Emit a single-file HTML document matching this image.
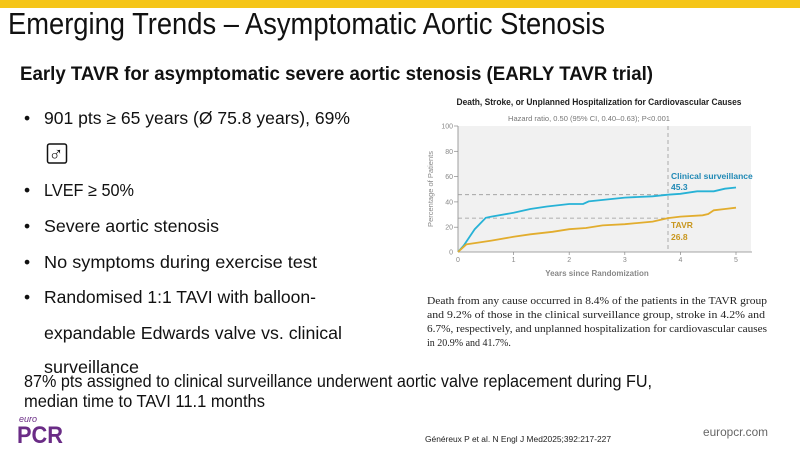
<!DOCTYPE html>
<html><head><meta charset="utf-8"><style>
html,body{margin:0;padding:0;background:#fff;}
svg{display:block;font-family:"Liberation Sans",sans-serif;}
</style></head><body>
<svg width="800" height="450" viewBox="0 0 800 450" xmlns="http://www.w3.org/2000/svg">
<rect x="0" y="0" width="800" height="8" fill="#f5c518"/>
<text x="8" y="34" font-size="31" fill="#111" textLength="597" lengthAdjust="spacingAndGlyphs">Emerging Trends – Asymptomatic Aortic Stenosis</text>
<text x="20" y="80" font-size="19" font-weight="bold" fill="#111" textLength="633" lengthAdjust="spacingAndGlyphs">Early TAVR for asymptomatic severe aortic stenosis (EARLY TAVR trial)</text>
<g font-size="17.5" fill="#111">
<text x="24" y="124">•</text><text x="44" y="124" textLength="306" lengthAdjust="spacingAndGlyphs">901 pts ≥ 65 years (Ø 75.8 years), 69%</text>
<rect x="47.5" y="144" width="19" height="19" rx="2" fill="none" stroke="#111" stroke-width="1.5"/>
<text x="48.5" y="161" font-size="20">♂</text>
<text x="24" y="196">•</text><text x="44" y="196" textLength="90" lengthAdjust="spacingAndGlyphs">LVEF ≥ 50%</text>
<text x="24" y="232">•</text><text x="44" y="232" textLength="175" lengthAdjust="spacingAndGlyphs">Severe aortic stenosis</text>
<text x="24" y="268">•</text><text x="44" y="268" textLength="273" lengthAdjust="spacingAndGlyphs">No symptoms during exercise test</text>
<text x="24" y="303">•</text><text x="44" y="303" textLength="272" lengthAdjust="spacingAndGlyphs">Randomised 1:1 TAVI with balloon-</text>
<text x="44" y="339" textLength="298" lengthAdjust="spacingAndGlyphs">expandable Edwards valve vs. clinical</text>
<text x="44" y="373" textLength="95" lengthAdjust="spacingAndGlyphs">surveillance</text>
<text x="24" y="387" textLength="628" lengthAdjust="spacingAndGlyphs">87% pts assigned to clinical surveillance underwent aortic valve replacement during FU,</text>
<text x="24" y="407" textLength="241" lengthAdjust="spacingAndGlyphs">median time to TAVI 11.1 months</text>
</g>
<text x="599" y="105" font-size="9" font-weight="bold" fill="#222" text-anchor="middle" textLength="285" lengthAdjust="spacingAndGlyphs">Death, Stroke, or Unplanned Hospitalization for Cardiovascular Causes</text>
<text x="589" y="121" font-size="7.5" fill="#777" text-anchor="middle" textLength="162" lengthAdjust="spacingAndGlyphs">Hazard ratio, 0.50 (95% CI, 0.40–0.63); P&lt;0.001</text>
<rect x="458" y="126" width="293" height="126" fill="#f1f1f1"/>
<line x1="458" y1="126" x2="458" y2="252" stroke="#888" stroke-width="0.8"/>
<line x1="458" y1="252" x2="752" y2="252" stroke="#888" stroke-width="0.8"/>
<g stroke="#888" stroke-width="0.7">
<line x1="454" y1="126" x2="458" y2="126"/><line x1="454" y1="151.3" x2="458" y2="151.3"/><line x1="454" y1="176.6" x2="458" y2="176.6"/><line x1="454" y1="201.9" x2="458" y2="201.9"/><line x1="454" y1="227.2" x2="458" y2="227.2"/>
<line x1="513.6" y1="252" x2="513.6" y2="255"/><line x1="569.2" y1="252" x2="569.2" y2="255"/><line x1="624.8" y1="252" x2="624.8" y2="255"/><line x1="680.4" y1="252" x2="680.4" y2="255"/><line x1="736" y1="252" x2="736" y2="255"/>
</g>
<g font-size="7" fill="#888" text-anchor="end">
<text x="453" y="128.5">100</text><text x="453" y="153.8">80</text><text x="453" y="179">60</text><text x="453" y="204.4">40</text><text x="453" y="229.7">20</text><text x="453" y="254.5">0</text>
</g>
<g font-size="7" fill="#888" text-anchor="middle">
<text x="458" y="262">0</text><text x="513.6" y="262">1</text><text x="569.2" y="262">2</text><text x="624.8" y="262">3</text><text x="680.4" y="262">4</text><text x="736" y="262">5</text>
</g>
<text x="0" y="0" font-size="7.5" fill="#888" text-anchor="middle" transform="translate(433,189) rotate(-90)">Percentage of Patients</text>
<text x="597" y="276" font-size="8" font-weight="bold" fill="#888" text-anchor="middle">Years since Randomization</text>
<g stroke="#999" stroke-width="0.8" stroke-dasharray="4,3" fill="none">
<line x1="458" y1="194.7" x2="668" y2="194.7"/>
<line x1="458" y1="218.1" x2="668" y2="218.1"/>
<line x1="668" y1="126" x2="668" y2="252"/>
</g>
<polyline fill="none" stroke="#27b2d6" stroke-width="1.8" points="458,252 463.6,245.7 474.7,229.2 485.8,217.8 491.4,216.6 513.6,212.8 530.3,209 547,206.5 569.2,204 583.1,204 588.7,201.4 624.8,197.6 652.6,196.3 668,194.7 680.4,193.8 697.1,191.3 713.8,191.3 724.9,188.7 736,187.5"/>
<polyline fill="none" stroke="#e2ad2e" stroke-width="1.8" points="458,252 466.3,244.4 474.7,243.1 491.4,240.6 513.6,236.8 530.3,234.3 552.5,231.8 569.2,229.2 585.9,228 602.6,225.4 624.8,224.2 652.6,221.6 668,218.1 680.4,216.6 702.6,215.3 708.2,214 713.8,210.3 724.9,209 736,207.7"/>
<text x="671" y="179" font-size="8.5" font-weight="bold" fill="#2089b5">Clinical surveillance</text>
<text x="671" y="190" font-size="8.5" font-weight="bold" fill="#2089b5">45.3</text>
<text x="671" y="228" font-size="8.5" font-weight="bold" fill="#c8961d">TAVR</text>
<text x="671" y="240" font-size="8.5" font-weight="bold" fill="#c8961d">26.8</text>
<g font-family="Liberation Serif,serif" font-size="10" fill="#222">
<text x="427" y="304" textLength="340" lengthAdjust="spacingAndGlyphs">Death from any cause occurred in 8.4% of the patients in the TAVR group</text>
<text x="427" y="318" textLength="338" lengthAdjust="spacingAndGlyphs">and 9.2% of those in the clinical surveillance group, stroke in 4.2% and</text>
<text x="427" y="332" textLength="340" lengthAdjust="spacingAndGlyphs">6.7%, respectively, and unplanned hospitalization for cardiovascular causes</text>
<text x="427" y="346">in 20.9% and 41.7%.</text>
</g>
<text x="19" y="422" font-size="9" font-style="italic" fill="#6a2c86">euro</text>
<text x="17" y="443" font-size="24" font-weight="bold" fill="#6a2c86" textLength="46" lengthAdjust="spacingAndGlyphs">PCR</text>
<text x="425" y="442" font-size="8" fill="#222" textLength="186" lengthAdjust="spacingAndGlyphs">Généreux P et al. N Engl J Med2025;392:217-227</text>
<text x="703" y="436" font-size="11.5" fill="#666" textLength="65" lengthAdjust="spacingAndGlyphs">europcr.com</text>
</svg>
</body></html>
